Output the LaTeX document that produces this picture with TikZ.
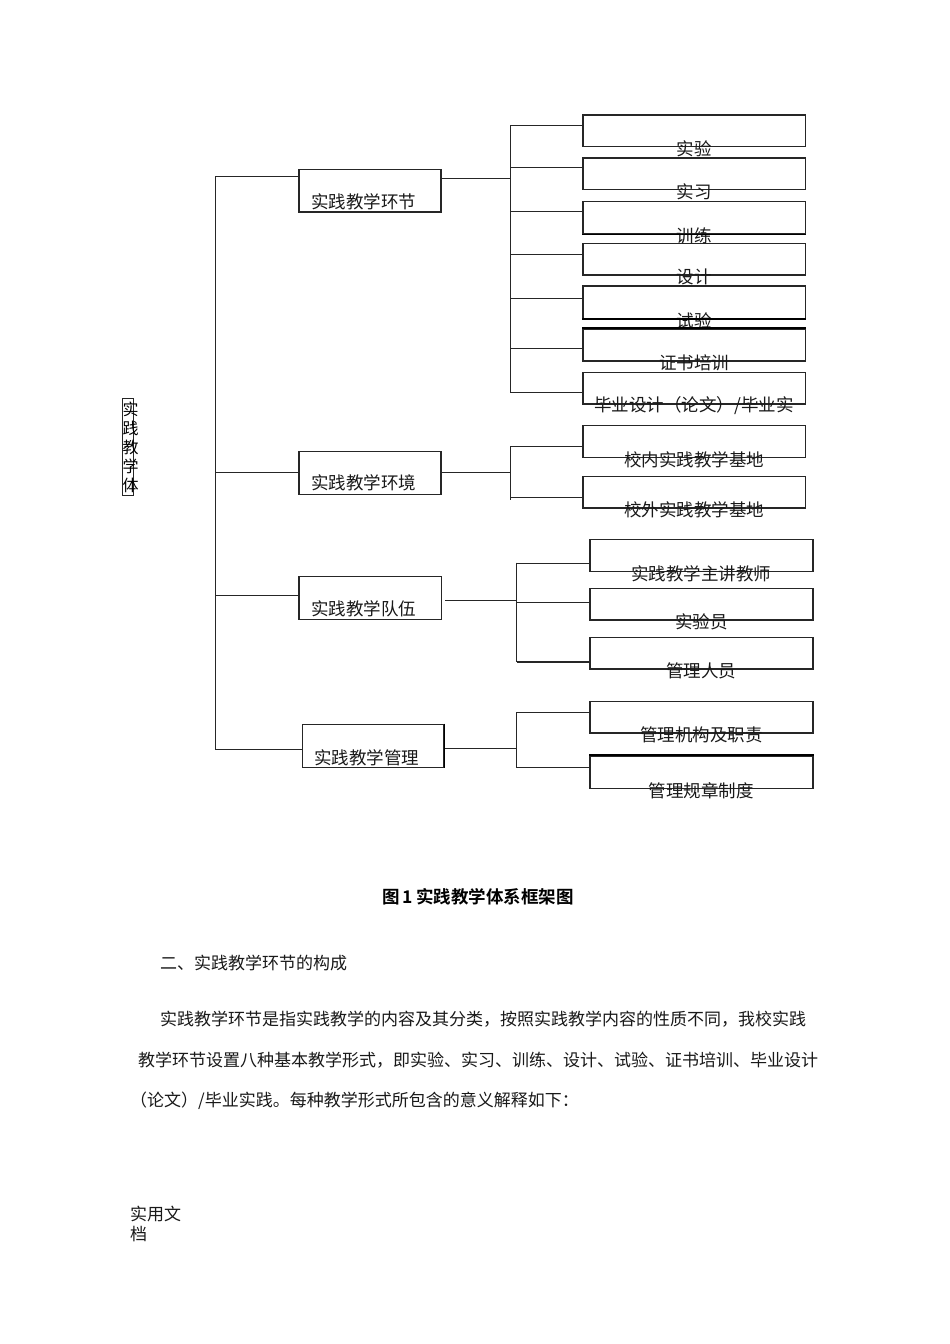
\documentclass[tikz,border=0pt]{standalone}
\usepackage{fontspec}
\setmainfont{Noto Sans CJK SC}[BoldFont={Noto Sans CJK SC Bold}]
\begin{document}
\begin{tikzpicture}[x=1pt,y=-1pt,
  box/.style={draw=black!85, line width=1.2pt, inner sep=0pt, anchor=north west},
  conn/.style={draw=black!85, line width=1pt},
  thick2/.style={draw=black, line width=2pt},
  lbl/.style={font=\fontsize{17.5}{20}\selectfont, inner sep=0pt, text=black!90},
  body/.style={font=\fontsize{17}{20}\selectfont, inner sep=0pt, anchor=west, text=black!90}]
\fill[white] (0,0) rectangle (950,1344);
\useasboundingbox (0,0) rectangle (950,1344);

% root label
\node[box, line width=0.8pt, minimum width=11.6pt, minimum height=97.3pt] (root) at (121.7,397.7) {};
\node[inner sep=0pt, align=center, font=\fontsize{16}{19}\selectfont] (rootlbl) at (130.5,447) {实\\践\\教\\学\\体};

% main boxes
\node[box, minimum width=142pt, minimum height=42.6pt] (m1) at (298.3,168.7) {};
\node[box, minimum width=142pt, minimum height=43pt] (m2) at (298.3,451) {};
\node[box, minimum width=142.4pt, minimum height=43pt] (m3) at (298.3,575.7) {};
\node[box, minimum width=141.6pt, minimum height=43pt] (m4) at (301.7,723.7) {};
\node[lbl, anchor=west] (t1) at (311,201.7) {实践教学环节};
\node[lbl, anchor=west] (t2) at (311,483) {实践教学环境};
\node[lbl, anchor=west] (t3) at (311,608.3) {实践教学队伍};
\node[lbl, anchor=west] (t4) at (314,757.3) {实践教学管理};

% spine
\coordinate (s1) at (215,176);
\coordinate (s2) at (215,472.3);
\coordinate (s3) at (215,595);
\coordinate (s4) at (215,749.3);
\draw[conn] (s1) -- (s4);
\draw[conn] (s1) -- (s1 -| m1.west);
\draw[conn] (s2) -- (s2 -| m2.west);
\draw[conn] (s3) -- (s3 -| m3.west);
\draw[conn] (s4) -- (s4 -| m4.west);

% leaf boxes
\foreach \n/\t/\h in {a1/114.3/31.7, a2/157.3/31.7, a3/201/32.3, a4/242.7/31.6, a5/285.3/32.4, a6/328.3/32, a7/371.7/31.6, b1/425/31.7, b2/476/31.3}
  \node[box, minimum width=222.4pt, minimum height=\h pt] (\n) at (582.3,\t) {};
\foreach \n/\t/\h in {c1/538.7/32, c2/587.7/31.6, c3/636.7/31.6, d1/701/31.3, d2/755.3/32.4}
  \node[box, minimum width=223pt, minimum height=\h pt] (\n) at (589.3,\t) {};

% leaf labels
\foreach \n/\txt in {a1/实验, a2/实习, a3/训练, a4/设计, a5/试验, a6/证书培训, b1/校内实践教学基地, b2/校外实践教学基地, c1/实践教学主讲教师, c2/实验员, c3/管理人员, d1/管理机构及职责, d2/管理规章制度}
  \node[lbl] (l\n) at ([yshift=-1.5pt]\n.south) {\txt};
\node[lbl] (la7) at ([yshift=-1.5pt]a7.south) {毕业设计（论文）/毕业实};

% group 1 connectors
\coordinate (j1) at (510.7,178.3);
\coordinate (v1t) at (510.7,125);
\coordinate (v1b) at (510.7,392.7);
\draw[conn] (j1 -| m1.east) -- (j1);
\draw[conn] (v1t) -- (v1b);
\foreach \n/\y in {a1/125, a2/167.7, a3/211.7, a4/254, a5/298, a6/348.7, a7/392.7}
  \draw[conn] (510.7,\y) -- (510.7,\y -| \n.west);

% group 2 connectors
\coordinate (j2) at (510.7,472.3);
\draw[conn] (j2 -| m2.east) -- (j2);
\draw[conn] (510.7,446) -- (510.7,500);
\foreach \n/\y in {b1/446, b2/497.3}
  \draw[conn] (510.7,\y) -- (510.7,\y -| \n.west);

% group 3 connectors
\coordinate (j3) at (516.7,600.3);
\draw[conn] (445,600.3) -- (j3);
\draw[conn] (516.7,562.7) -- (516.7,661.7);
\foreach \n/\y in {c1/563, c2/602}
  \draw[conn] (516.7,\y) -- (516.7,\y -| \n.west);
\draw[conn, line width=2pt] (516.7,661.7) -- (516.7,661.7 -| c3.west);

% group 4 connectors
\coordinate (j4) at (516.7,748.7);
\draw[conn] (j4 -| m4.east) -- (j4);
\draw[conn] (516.7,712.3) -- (516.7,767.7);
\foreach \n/\y in {d1/712.3, d2/767.7}
  \draw[conn] (516.7,\y) -- (516.7,\y -| \n.west);

% heavier borders seen in the reference
\draw[thick2, line width=1.8pt] (a3.south west) -- (a3.south east);
\draw[thick2, line width=1.8pt] (a6.north west) -- (a6.north east);
\draw[thick2, line width=1.6pt] (a5.south west) -- (a5.south east);
\draw[thick2, line width=1.8pt] (d2.north west) -- (d2.north east);
\draw[thick2, line width=1.8pt] (m4.north east) -- (m4.south east);

% caption and body text
\node[font=\fontsize{17.5}{20}\selectfont\bfseries, inner sep=0pt] (cap) at (478,897) {图\,1\,实践教学体系框架图};
\node[body] (h2) at (160,963) {二、实践教学环节的构成};
\node[body] (p1) at (160,1019) {实践教学环节是指实践教学的内容及其分类，按照实践教学内容的性质不同，我校实践};
\node[body] (p2) at (138,1060) {教学环节设置八种基本教学形式，即实验、实习、训练、设计、试验、证书培训、毕业设计};
\node[body] (p3) at (130,1101) {（论文）/毕业实践。每种教学形式所包含的意义解释如下：};
\node[body] (f1) at (130,1214) {实用文};
\node[body] (f2) at (130,1234) {档};
\end{tikzpicture}
\end{document}
